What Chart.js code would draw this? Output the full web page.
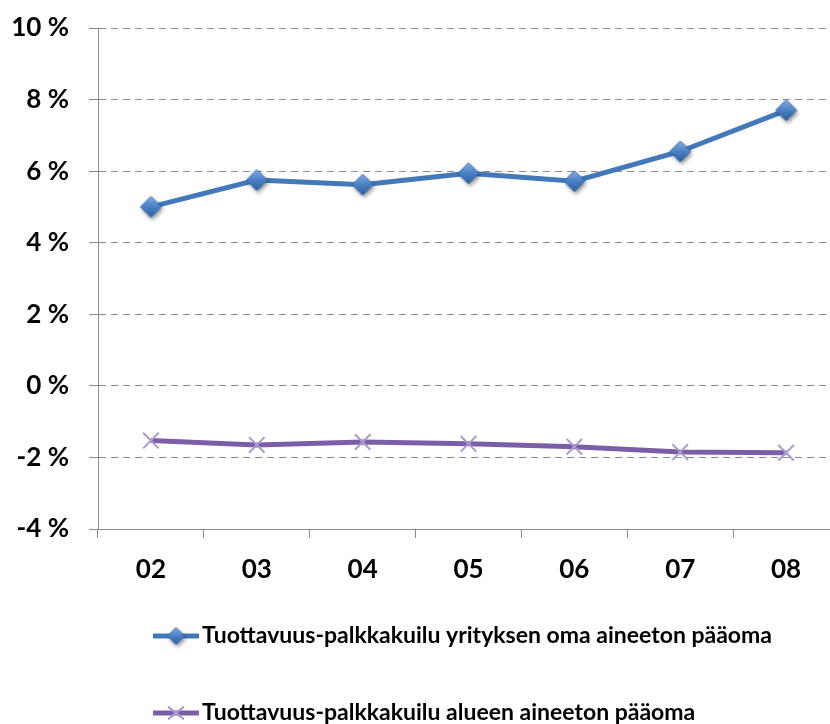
<!DOCTYPE html>
<html>
<head>
<meta charset="utf-8">
<script src="https://cdn.jsdelivr.net/npm/chart.js@4/dist/chart.umd.min.js"></script>
<style>
  html, body { margin: 0; padding: 0; background: #fff; overflow: hidden; }
  #wrap { width: 854px; height: 724px; }
</style>
</head>
<body>
<div id="wrap"><canvas id="c" width="854" height="724"></canvas></div>
<script>
// Years (two-digit) on the category axis
const years = ['02', '03', '04', '05', '06', '07', '08'];
// Productivity-wage gap, per cent
const gapOwnIntangible = [5.0, 5.75, 5.62, 5.94, 5.72, 6.55, 7.7];
const gapRegionIntangible = [-1.53, -1.65, -1.57, -1.62, -1.70, -1.85, -1.87];
const seriesNames = [
  'Tuottavuus-palkkakuilu yrityksen oma aineeton pääoma',
  'Tuottavuus-palkkakuilu alueen aineeton pääoma'
];
const yTicks = { min: -4, max: 10, step: 2 };

const FONT = 'Lato, "Open Sans", sans-serif';

// Shaded diamond marker with a soft drop shadow
function diamondImage(r) {
  const pad = 6;
  const s = Math.ceil(2 * r + 2 * pad);
  const cv = document.createElement('canvas');
  cv.width = s; cv.height = s;
  const g = cv.getContext('2d');
  const c = s / 2;
  g.save();
  g.shadowColor = 'rgba(0,0,0,0.45)';
  g.shadowBlur = 4;
  g.shadowOffsetX = 1.5;
  g.shadowOffsetY = 2.5;
  g.beginPath();
  g.moveTo(c, c - r); g.lineTo(c + r, c); g.lineTo(c, c + r); g.lineTo(c - r, c); g.closePath();
  const grad = g.createLinearGradient(c, c - r, c, c + r);
  grad.addColorStop(0, '#82aee6');
  grad.addColorStop(0.5, '#4a80c4');
  grad.addColorStop(1, '#2c5f9f');
  g.fillStyle = grad;
  g.fill();
  g.restore();
  g.lineWidth = 1;
  g.strokeStyle = '#3a6cab';
  g.beginPath();
  g.moveTo(c, c - r); g.lineTo(c + r, c); g.lineTo(c, c + r); g.lineTo(c - r, c); g.closePath();
  g.stroke();
  return cv;
}
const diamondBig = diamondImage(10.5);
const diamondSmall = diamondImage(8.5);

// Legend drawn below the plot, one entry per row
const stackedLegend = {
  id: 'stackedLegend',
  afterDraw(chart) {
    const ctx = chart.ctx;
    const rows = [636, 713];
    chart.data.datasets.forEach((ds, i) => {
      const y = rows[i];
      ctx.save();
      ctx.strokeStyle = ds.borderColor;
      ctx.lineWidth = ds.borderWidth;
      ctx.beginPath();
      ctx.moveTo(153, y); ctx.lineTo(199, y);
      ctx.stroke();
      if (i === 0) {
        ctx.drawImage(diamondSmall, 176 - diamondSmall.width / 2, y - diamondSmall.height / 2);
      } else {
        ctx.strokeStyle = ds.pointBorderColor;
        ctx.lineWidth = 2;
        const r = 8;
        ctx.beginPath();
        ctx.moveTo(176 - r, y - r * 0.8); ctx.lineTo(176 + r, y + r * 0.8);
        ctx.moveTo(176 + r, y - r * 0.8); ctx.lineTo(176 - r, y + r * 0.8);
        ctx.stroke();
      }
      ctx.fillStyle = '#000';
      ctx.font = 'bold 23px ' + FONT;
      ctx.textBaseline = 'middle';
      ctx.textAlign = 'left';
      ctx.fillText(ds.label, 202, y);
      ctx.restore();
    });
  }
};

new Chart(document.getElementById('c'), {
  type: 'line',
  data: {
    labels: years,
    datasets: [
      {
        label: seriesNames[0],
        data: gapOwnIntangible,
        borderColor: '#4378bb',
        borderWidth: 5,
        pointStyle: diamondBig,
        pointRadius: 10,
        tension: 0
      },
      {
        label: seriesNames[1],
        data: gapRegionIntangible,
        borderColor: '#7c5ea8',
        borderWidth: 5,
        pointStyle: 'crossRot',
        pointRadius: 11,
        pointBorderColor: '#a99bcf',
        pointBorderWidth: 2,
        tension: 0
      }
    ]
  },
  options: {
    responsive: false,
    animation: false,
    layout: { padding: { top: 28, right: 0, left: 0, bottom: 0 } },
    plugins: {
      legend: { display: false },
      tooltip: { enabled: false }
    },
    scales: {
      x: {
        offset: true,
        grid: {
          offset: true,
          drawOnChartArea: false,
          drawTicks: true,
          tickLength: 9,
          color: '#8c8c8c',
          lineWidth: 1
        },
        border: { display: true, color: '#8c8c8c', width: 1 },
        ticks: {
          color: '#000',
          font: { family: FONT, size: 26, weight: 'bold' },
          padding: 16,
          maxRotation: 0
        },
        afterFit(scale) {
          scale.height = 195;
          scale.paddingLeft = 0;
          scale.paddingRight = 0;
        }
      },
      y: {
        min: yTicks.min,
        max: yTicks.max,
        grid: {
          color: '#8c8c8c',
          lineWidth: 1,
          drawTicks: true,
          tickLength: 9,
          tickBorderDash: []
        },
        border: { display: true, color: '#8c8c8c', width: 1, dash: [7, 5] },
        ticks: {
          stepSize: yTicks.step,
          color: '#000',
          font: { family: FONT, size: 26, weight: 'bold' },
          padding: 20,
          callback: v => v + ' %'
        },
        afterFit(scale) {
          scale.width = 98;
          scale.paddingTop = 0;
          scale.paddingBottom = 0;
        }
      }
    }
  },
  plugins: [stackedLegend]
});
</script>
</body>
</html>
